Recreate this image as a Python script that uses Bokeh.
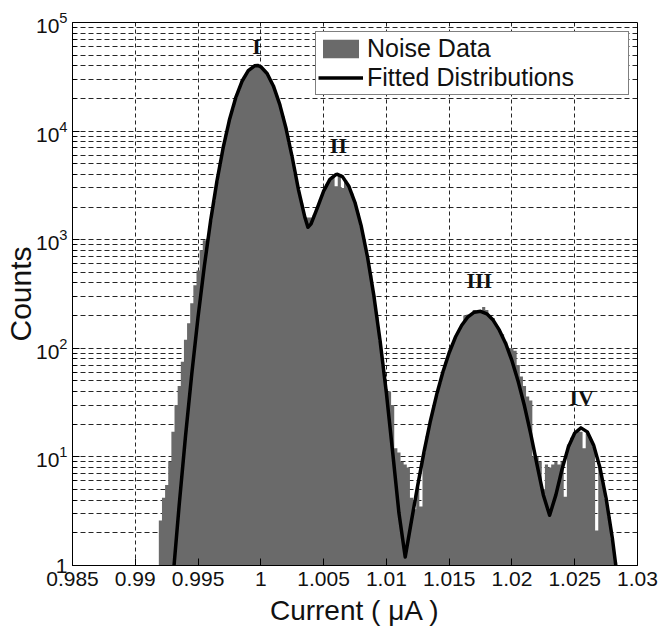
import numpy as np
from bokeh.plotting import figure
from bokeh.models import (Range1d, FixedTicker, LogTickFormatter, Legend, LegendItem,
                          ColumnDataSource)
from bokeh.core.properties import value
from bokeh.embed import file_html
from bokeh.resources import INLINE

# ---------------- data ----------------
x_ticks = [0.985, 0.99, 0.995, 1.0, 1.005, 1.01, 1.015, 1.02, 1.025, 1.03]
x_tick_labels = ["0.985", "0.99", "0.995", "1", "1.005", "1.01", "1.015", "1.02", "1.025", "1.03"]
y_ticks = [1, 10, 100, 1000, 10000, 100000]

# histogram (Noise Data): bins of width 0.00025, first bin centred at 0.9920
BIN_START = 0.991875
BIN_WIDTH = 0.00025
hist_counts = [
    2.6, 4.2, 5.5, 9, 17, 30, 45, 75, 120, 170,
    260, 380, 520, 800, 990, 1020, 1500, 2270, 3440, 4920,
    7030, 9450, 12700, 16060, 20300, 24170, 28770, 32170, 35980, 37890,
    39900, 40200, 39100, 36430, 33950, 29740, 26060, 21480, 17710, 13750,
    10670, 7830, 5740, 4070, 2880, 2160, 1650, 1600, 1600, 1700,
    1970, 2370, 2800, 3230, 3590, 3850, 3100, 3950, 3000, 3520,
    3120, 2670, 2200, 1740, 1330, 980, 690, 470, 307, 194,
    117, 69, 42, 40, 30, 12, 11, 9, 8.5, 8,
    4.2, 3.3, 5.2, 3.5, 11, 15.6, 21.3, 28.4, 37.3, 48,
    60.6, 75, 91, 108, 127, 145, 163, 200, 205, 206,
    225, 219, 219, 240, 225, 196, 190, 165, 150, 135,
    115, 100, 100, 95, 70, 55, 45, 36, 33, 10,
    10, 9, 5, 8.5, 8, 8.5, 9, 8.5, 9, 4.3,
    13, 15, 16.5, 17.5, 17, 12, 16.5, 15, 12.5, 2.1,
    8, 5.8, 4.1, 2.8, 1.75, 1.07,
]

# fitted distributions (sum of four peaks)
curve_x = [
    0.9930, 0.9935, 0.9940, 0.9945, 0.9950, 0.9955, 0.9960, 0.9965, 0.9970, 0.9975,
    0.9980, 0.9985, 0.9990, 0.9995, 0.99975, 1.0000, 1.0005, 1.0010, 1.0015, 1.0020,
    1.0025, 1.0030, 1.0035, 1.00375, 1.0040, 1.0045, 1.0050, 1.0055, 1.0060, 1.0061,
    1.0065, 1.0070, 1.0075, 1.0080, 1.0085, 1.0090, 1.0095, 1.0100, 1.0105, 1.0110,
    1.0115, 1.0120, 1.0125, 1.0130, 1.0135, 1.0140, 1.0145, 1.0150, 1.0155, 1.0160,
    1.0165, 1.0170, 1.0175, 1.0180, 1.0185, 1.0190, 1.0195, 1.0200, 1.0205, 1.0210,
    1.0215, 1.0220, 1.0225, 1.0230, 1.0235, 1.0240, 1.0245, 1.0250, 1.0255, 1.0260,
    1.0265, 1.0270, 1.0275, 1.0280, 1.0285,
]
curve_y = [
    0.76, 3.64, 15.5, 58.2, 194, 571, 1493, 3443, 7031, 12700,
    20300, 28770, 35980, 39900, 40200, 39100, 33950, 26060, 17710, 10674,
    5743, 2880, 1620, 1300, 1400, 1966, 2805, 3593, 3992, 4000,
    3810, 3125, 2198, 1329, 690, 307, 117, 38.7, 11.05, 3.04,
    1.2, 2.59, 5.5, 11.2, 21.3, 37.3, 60.6, 91, 127, 163,
    195, 215, 219, 208, 182, 147, 111, 76.9, 49.4, 29.4,
    16.2, 8.43, 4.46, 2.9, 4.47, 7.78, 12.4, 16.6, 18.5, 17.0,
    12.9, 8.05, 4.16, 1.77, 0.62,
]

peak_labels = ["I", "II", "III", "IV"]
peak_label_x = [0.99965, 1.00618, 1.0174, 1.02555]
peak_label_y = [60000, 7400, 420, 35]

# ---------------- figure ----------------
TICK_FONT = "'Liberation Sans Narrow', 'Liberation Sans', Arial, sans-serif"
HIST_COLOR = "#6a6a6a"

p = figure(width=658, height=630, output_backend="svg", toolbar_location=None,
           y_axis_type="log",
           x_range=Range1d(0.985, 1.03), y_range=Range1d(1, 1e5),
           min_border_left=67, min_border_right=21, min_border_top=22, min_border_bottom=65)
p.background_fill_color = "white"
p.border_fill_color = "white"
p.outline_line_color = "black"
p.outline_line_width = 1

# histogram drawn as one stepped area (no seams between bins)
edges = BIN_START + BIN_WIDTH * np.arange(len(hist_counts) + 1)
step_x = np.repeat(edges, 2)[1:-1]
step_y = np.repeat(np.asarray(hist_counts, dtype=float), 2)
hsrc = ColumnDataSource(dict(x=step_x, y1=np.ones_like(step_y), y2=step_y))
hr = p.varea(x="x", y1="y1", y2="y2", source=hsrc, fill_color=HIST_COLOR)

lr = p.line(curve_x, curve_y, line_color="black", line_width=3.5, line_join="round")

p.text(x=peak_label_x, y=peak_label_y, text=peak_labels,
       text_font=value("Liberation Serif"), text_font_style="bold",
       text_font_size="22px", text_align="center", text_baseline="middle",
       text_color="#111111")

# axes
p.xaxis.ticker = FixedTicker(ticks=x_ticks)
p.xaxis.major_label_overrides = {t: l for t, l in zip(x_ticks, x_tick_labels)}
minor_y = [m * 10 ** e for e in range(0, 5) for m in range(2, 10)]
p.yaxis.ticker = FixedTicker(ticks=y_ticks, minor_ticks=minor_y)
p.yaxis.formatter = LogTickFormatter(min_exponent=1)

for ax in (p.xaxis[0], p.yaxis[0]):
    ax.axis_line_color = "black"
    ax.major_tick_in = 7
    ax.major_tick_out = 0
    ax.minor_tick_in = 4
    ax.minor_tick_out = 0
    ax.major_tick_line_color = "black"
    ax.minor_tick_line_color = "black"
    ax.major_label_text_font = TICK_FONT
    ax.major_label_text_font_size = "21px"
    ax.major_label_text_color = "#111111"
    ax.axis_label_text_font = "Liberation Sans"
    ax.axis_label_text_font_style = "normal"
    ax.axis_label_text_color = "#111111"
p.xaxis.axis_label_text_font_size = "28px"
p.yaxis.axis_label_text_font_size = "30px"
p.xaxis.minor_tick_line_color = None
p.xaxis.axis_label = "Current ( \u03bcA )"
p.yaxis.axis_label = "Counts"
p.xaxis.major_label_standoff = 6
p.yaxis.major_label_standoff = 5
p.xaxis.axis_label_standoff = 6
p.yaxis.axis_label_standoff = -4

# grid
p.xgrid.grid_line_color = "black"
p.xgrid.grid_line_dash = "4 3"
p.xgrid.grid_line_alpha = 0.85
p.ygrid.grid_line_color = "black"
p.ygrid.grid_line_dash = "5 3"
p.ygrid.grid_line_alpha = 0.85
p.ygrid.minor_grid_line_color = "black"
p.ygrid.minor_grid_line_dash = "5 3"
p.ygrid.minor_grid_line_alpha = 0.85

# legend
legend = Legend(items=[LegendItem(label="Noise Data", renderers=[hr]),
                       LegendItem(label="Fitted Distributions", renderers=[lr])],
                location=(243, 470))
legend.label_text_font = "Liberation Sans"
legend.label_text_font_size = "25px"
legend.label_text_color = "#111111"
legend.glyph_width = 45
legend.glyph_height = 23
legend.label_height = 23
legend.label_width = 259
legend.label_standoff = 4
legend.spacing = -6
legend.padding = 2
legend.margin = 0
legend.border_line_color = "black"
legend.border_line_width = 1
legend.background_fill_color = "white"
legend.background_fill_alpha = 1
p.add_layout(legend, "center")

open("out.html", "w").write(file_html(p, INLINE))
